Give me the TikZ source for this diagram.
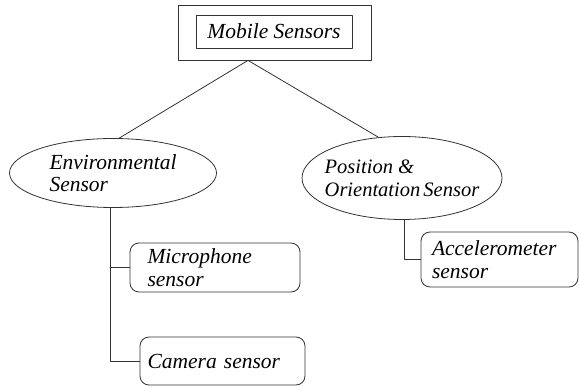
\documentclass[tikz,border=0pt]{standalone}
\usepackage{fontspec}
\setmainfont{Liberation Serif}
\usetikzlibrary{shapes.geometric}
\tikzset{
  sensbox/.style={draw, rounded corners=9pt, align=left, inner sep=2pt},
  sensell/.style={draw, ellipse, align=left, inner sep=0pt},
}
\begin{document}
\begin{tikzpicture}[x=1pt, y=-1pt, font=\fontsize{21.5}{22.5}\selectfont\itshape, line join=round, line cap=round, draw=black!80, line width=0.8pt]
\useasboundingbox (0,0) rectangle (579,387);
\node[draw, minimum width=193pt, minimum height=55pt] (mobout) at (274.5,32.5) {};
\node[draw, minimum width=156pt, minimum height=33pt] (mob) at (274,31.5) {Mobile Sensors};
\node[sensell, minimum width=207pt, minimum height=69pt] (env) at (113,173) {Environmental\\Sensor};
\node[sensell, minimum width=200pt, minimum height=83pt, inner xsep=-14pt, font=\fontsize{20.5}{23}\selectfont\itshape] (pos) at (402,178) {Position \&\\Orientation\hspace{-2pt} Sensor};
\node[sensbox, minimum width=170pt, minimum height=49pt, text width=135pt] (mic) at (215,267.5) {Microphone\\sensor};
\node[sensbox, minimum width=165pt, minimum height=48pt, text width=150pt] (cam) at (222.5,361) {Camera sensor};
\node[sensbox, minimum width=157pt, minimum height=55pt, text width=135pt] (acc) at (499.5,259.5) {Accelerometer\\sensor};
\coordinate (apex) at ([xshift=-26.5pt]mobout.south);
\draw (env.80) -- (apex) -- (pos.120);
\draw (env.265) |- (cam.west);
\draw (env.265 |- mic.west) -- (mic.west);
\draw (pos.273) |- (acc.west);
\end{tikzpicture}
\end{document}
